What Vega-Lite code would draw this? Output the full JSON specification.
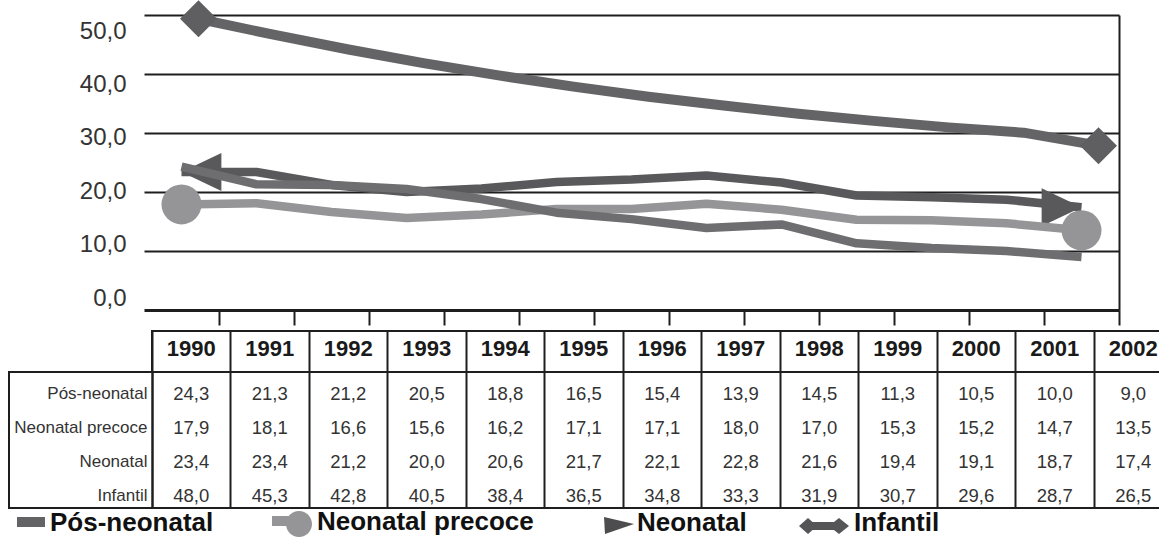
{
  "$schema": "https://vega.github.io/schema/vega-lite/v6.json",
  "width": 1159,
  "height": 538,
  "autosize": {"type": "none"},
  "padding": 0,
  "background": "white",
  "config": {
    "view": {"stroke": null},
    "font": "Liberation Sans",
    "locale": {"number": {"decimal": ",", "thousands": ".", "grouping": [3], "currency": ["", ""]}}
  },
  "data": {"values": [
    {"year": 1990, "series": "Pós-neonatal", "value": 24.3},
    {"year": 1991, "series": "Pós-neonatal", "value": 21.3},
    {"year": 1992, "series": "Pós-neonatal", "value": 21.2},
    {"year": 1993, "series": "Pós-neonatal", "value": 20.5},
    {"year": 1994, "series": "Pós-neonatal", "value": 18.8},
    {"year": 1995, "series": "Pós-neonatal", "value": 16.5},
    {"year": 1996, "series": "Pós-neonatal", "value": 15.4},
    {"year": 1997, "series": "Pós-neonatal", "value": 13.9},
    {"year": 1998, "series": "Pós-neonatal", "value": 14.5},
    {"year": 1999, "series": "Pós-neonatal", "value": 11.3},
    {"year": 2000, "series": "Pós-neonatal", "value": 10.5},
    {"year": 2001, "series": "Pós-neonatal", "value": 10.0},
    {"year": 2002, "series": "Pós-neonatal", "value": 9.0},
    {"year": 1990, "series": "Neonatal precoce", "value": 17.9},
    {"year": 1991, "series": "Neonatal precoce", "value": 18.1},
    {"year": 1992, "series": "Neonatal precoce", "value": 16.6},
    {"year": 1993, "series": "Neonatal precoce", "value": 15.6},
    {"year": 1994, "series": "Neonatal precoce", "value": 16.2},
    {"year": 1995, "series": "Neonatal precoce", "value": 17.1},
    {"year": 1996, "series": "Neonatal precoce", "value": 17.1},
    {"year": 1997, "series": "Neonatal precoce", "value": 18.0},
    {"year": 1998, "series": "Neonatal precoce", "value": 17.0},
    {"year": 1999, "series": "Neonatal precoce", "value": 15.3},
    {"year": 2000, "series": "Neonatal precoce", "value": 15.2},
    {"year": 2001, "series": "Neonatal precoce", "value": 14.7},
    {"year": 2002, "series": "Neonatal precoce", "value": 13.5},
    {"year": 1990, "series": "Neonatal", "value": 23.4},
    {"year": 1991, "series": "Neonatal", "value": 23.4},
    {"year": 1992, "series": "Neonatal", "value": 21.2},
    {"year": 1993, "series": "Neonatal", "value": 20.0},
    {"year": 1994, "series": "Neonatal", "value": 20.6},
    {"year": 1995, "series": "Neonatal", "value": 21.7},
    {"year": 1996, "series": "Neonatal", "value": 22.1},
    {"year": 1997, "series": "Neonatal", "value": 22.8},
    {"year": 1998, "series": "Neonatal", "value": 21.6},
    {"year": 1999, "series": "Neonatal", "value": 19.4},
    {"year": 2000, "series": "Neonatal", "value": 19.1},
    {"year": 2001, "series": "Neonatal", "value": 18.7},
    {"year": 2002, "series": "Neonatal", "value": 17.4},
    {"year": 1990, "series": "Infantil", "value": 48.0},
    {"year": 1991, "series": "Infantil", "value": 45.3},
    {"year": 1992, "series": "Infantil", "value": 42.8},
    {"year": 1993, "series": "Infantil", "value": 40.5},
    {"year": 1994, "series": "Infantil", "value": 38.4},
    {"year": 1995, "series": "Infantil", "value": 36.5},
    {"year": 1996, "series": "Infantil", "value": 34.8},
    {"year": 1997, "series": "Infantil", "value": 33.3},
    {"year": 1998, "series": "Infantil", "value": 31.9},
    {"year": 1999, "series": "Infantil", "value": 30.7},
    {"year": 2000, "series": "Infantil", "value": 29.6},
    {"year": 2001, "series": "Infantil", "value": 28.7},
    {"year": 2002, "series": "Infantil", "value": 26.5}
  ]},
  "layer": [
    {
      "layer": [
        {
          "transform": [{"filter": "datum.series === 'Infantil'"}],
          "mark": {"type": "line", "color": "#646466", "strokeWidth": 10, "strokeCap": "butt", "strokeJoin": "round", "xOffset": 17, "yOffset": -8},
          "encoding": {
            "y": {"field": "value", "type": "quantitative",
              "scale": {"domain": [0, 50], "range": [310, 15], "nice": false, "zero": false},
              "axis": {"orient": "left", "values": [10, 20, 30, 40, 50], "grid": true, "gridColor": "#1e1e1e", "gridWidth": 2, "domain": false, "ticks": false, "labels": false, "title": null, "zindex": 0}}
          }
        },
        {
          "transform": [{"filter": "datum.series === 'Infantil' && (datum.year === 1990 || datum.year === 2002)"}],
          "mark": {"type": "point", "shape": "diamond", "filled": true, "size": 1370, "color": "#5f5f61", "opacity": 1, "xOffset": 17, "yOffset": -8}
        },
        {
          "transform": [{"filter": "datum.series === 'Neonatal'"}],
          "mark": {"type": "line", "color": "#59595b", "strokeWidth": 8.5, "strokeCap": "butt", "strokeJoin": "round"}
        },
        {
          "transform": [{"filter": "datum.series === 'Neonatal' && datum.year === 1990"}],
          "mark": {"type": "point", "shape": "M0,0L1.05,-0.5L1.05,0.5Z", "filled": true, "size": 5776, "color": "#59595b", "opacity": 1}
        },
        {
          "transform": [{"filter": "datum.series === 'Neonatal' && datum.year === 2002"}],
          "mark": {"type": "point", "shape": "M0,0L-1.05,-0.5L-1.05,0.5Z", "filled": true, "size": 5776, "color": "#59595b", "opacity": 1}
        },
        {
          "transform": [{"filter": "datum.series === 'Neonatal precoce'"}],
          "mark": {"type": "line", "color": "#959597", "strokeWidth": 8.5, "strokeCap": "butt", "strokeJoin": "round"}
        },
        {
          "transform": [{"filter": "datum.series === 'Neonatal precoce' && (datum.year === 1990 || datum.year === 2002)"}],
          "mark": {"type": "point", "shape": "circle", "filled": true, "size": 1600, "color": "#959597", "opacity": 1}
        },
        {
          "transform": [{"filter": "datum.series === 'Pós-neonatal'"}],
          "mark": {"type": "line", "color": "#6e6e70", "strokeWidth": 8.5, "strokeCap": "butt", "strokeJoin": "round"},
          "encoding": {
            "y": {"field": "value", "type": "quantitative",
              "scale": {"domain": [0, 50], "range": [310, 15], "nice": false, "zero": false},
              "axis": {"orient": "right", "offset": -40, "grid": false, "domain": true, "domainColor": "#1e1e1e", "domainWidth": 2, "ticks": false, "labels": false, "title": null}}
          }
        }
      ],
      "encoding": {
        "x": {"field": "year", "type": "ordinal",
          "scale": {"type": "band", "range": [144, 1119], "paddingInner": 0, "paddingOuter": 0},
          "axis": {"orient": "bottom", "offset": -228, "labels": false, "title": null, "grid": false, "domain": true, "domainColor": "#1e1e1e", "domainWidth": 3, "ticks": true, "tickSize": 15, "tickWidth": 2, "tickColor": "#1e1e1e", "bandPosition": 1}},
        "y": {"field": "value", "type": "quantitative",
          "scale": {"domain": [0, 50], "range": [310, 15], "nice": false, "zero": false},
          "axis": null}
      },
      "resolve": {"axis": {"y": "independent"}}
    },
    {
      "mark": {"type": "point", "opacity": 0},
      "encoding": {
        "y": {"field": "value", "type": "quantitative",
          "scale": {"domain": [0, 50], "range": [298, 31], "nice": false, "zero": false},
          "axis": {"orient": "left", "offset": -147, "values": [0, 10, 20, 30, 40, 50], "format": ".1f", "domain": false, "ticks": false, "grid": false, "labelPadding": 21, "labelFont": "Liberation Sans", "labelFontSize": 24, "labelColor": "#333333", "labelBaseline": "middle", "title": null}}
      }
    },
    {
      "transform": [{"aggregate": [{"op": "count", "as": "n"}]}],
      "mark": {"type": "rect", "filled": false, "color": "#1e1e1e", "strokeWidth": 2},
      "encoding": {
        "x": {"datum": "caixa", "type": "nominal", "scale": {"type": "band", "range": [152, 1172.5], "paddingInner": 0, "paddingOuter": 0}, "axis": null},
        "y": {"datum": "caixa", "type": "nominal", "scale": {"type": "band", "range": [331, 372], "paddingInner": 0, "paddingOuter": 0}, "axis": null}
      }
    },
    {
      "transform": [{"aggregate": [{"op": "count", "as": "n"}]}],
      "mark": {"type": "rect", "filled": false, "color": "#1e1e1e", "strokeWidth": 2},
      "encoding": {
        "x": {"datum": "caixa", "type": "nominal", "scale": {"type": "band", "range": [9, 1172.5], "paddingInner": 0, "paddingOuter": 0}, "axis": null},
        "y": {"datum": "caixa", "type": "nominal", "scale": {"type": "band", "range": [372, 508], "paddingInner": 0, "paddingOuter": 0}, "axis": null}
      }
    },
    {
      "mark": {"type": "text", "font": "Liberation Sans", "fontSize": 18.5, "color": "#333333", "yOffset": 5},
      "encoding": {
        "x": {"field": "year", "type": "ordinal",
          "scale": {"type": "band", "range": [152, 1172.5], "paddingInner": 0, "paddingOuter": 0},
          "axis": {"orient": "top", "offset": -372, "title": null, "domain": false, "ticks": true, "tickSize": 41, "tickWidth": 2, "tickColor": "#1e1e1e", "bandPosition": 0, "grid": true, "gridColor": "#1e1e1e", "gridWidth": 2, "labelPadding": -17.5, "labelBaseline": "middle", "labelAngle": 0, "labelFont": "Liberation Sans", "labelFontWeight": "bold", "labelFontSize": 22, "labelColor": "#1a1a1a", "labelOverlap": false, "labelFlush": false}},
        "y": {"field": "series", "type": "nominal",
          "scale": {"type": "band", "domain": ["Pós-neonatal", "Neonatal precoce", "Neonatal", "Infantil"], "range": [372, 508], "paddingInner": 0, "paddingOuter": 0},
          "axis": {"orient": "left", "offset": -152, "title": null, "domain": true, "domainColor": "#1e1e1e", "domainWidth": 2, "ticks": false, "grid": false, "labelPadding": 5, "labelOffset": 5, "labelFont": "Liberation Sans", "labelFontSize": 17, "labelColor": "#333333", "labelLimit": 200}},
        "text": {"field": "value", "type": "quantitative", "format": ".1f"}
      }
    },
    {
      "mark": {"type": "point", "filled": true, "opacity": 0},
      "encoding": {
        "color": {"field": "series", "type": "nominal",
          "scale": {"domain": ["Pós-neonatal", "Neonatal precoce", "Neonatal", "Infantil"], "range": ["#636365", "#959597", "#4d4d4f", "#555557"]},
          "legend": {"orient": "none", "legendX": -2, "legendY": 497, "direction": "horizontal", "title": null, "padding": 0, "symbolSize": 2500, "symbolStrokeWidth": 0, "symbolOpacity": 1, "labelOffset": 2, "columnPadding": 51, "labelFont": "Liberation Sans", "labelFontSize": 26, "labelFontWeight": "bold", "labelColor": "#111111", "labelLimit": 400,
            "encode": {"symbols": {"update": {"opacity": {"value": 1}, "fillOpacity": {"value": 1}}}}}},
        "shape": {"field": "series", "type": "nominal",
          "scale": {"domain": ["Pós-neonatal", "Neonatal precoce", "Neonatal", "Infantil"],
            "range": [
              "M-0.24,-0.24H0.88V0.16H-0.24Z",
              "M-0.72,-0.24H0.36V0.16H-0.72Z M0.88,0.08A0.52,0.52 0 1 1 -0.16,0.08A0.52,0.52 0 1 1 0.88,0.08Z",
              "M-0.24,-0.24L0.96,0.04L-0.2,0.44Z",
              "M-1.12,0.12L-0.76,-0.2L-0.4,0.12L-0.76,0.44Z M-0.76,-0.04H0.48V0.28H-0.76Z M0.08,0.12L0.48,-0.2L0.88,0.12L0.48,0.44Z"
            ]}}
      }
    }
  ],
  "resolve": {"scale": {"x": "independent", "y": "independent", "color": "independent", "shape": "independent"}}
}
